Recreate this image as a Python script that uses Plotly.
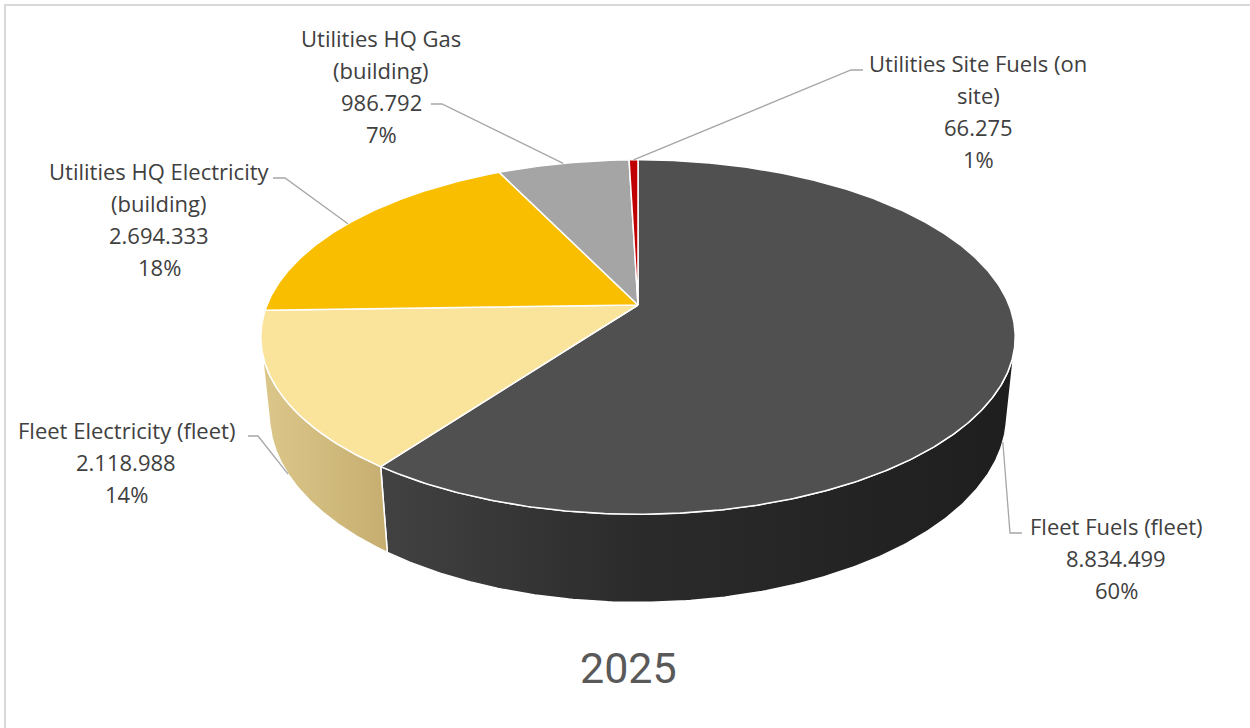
import math
import numpy as np
import plotly.graph_objects as go

# ---- data ----
categories = [
    "Fleet Fuels (fleet)",
    "Fleet Electricity (fleet)",
    "Utilities HQ Electricity\n(building)",
    "Utilities HQ Gas\n(building)",
    "Utilities Site Fuels (on\nsite)",
]
values = [8834499, 2118988, 2694333, 986792, 66275]
chart_title = "2025"

# ---- styling ----
top_colors = ["#505050", "#FAE39B", "#FABE00", "#A5A5A5", "#C00000"]
side_scales = [
    [[0, "#424242"], [0.4, "#2B2B2B"], [1, "#1E1E1E"]],
    [[0, "#DCC78A"], [1, "#C6AE70"]],
    [[0, "#D9A600"], [1, "#B88E00"]],
    [[0, "#909090"], [1, "#7A7A7A"]],
    [[0, "#A00000"], [1, "#800000"]],
]
label_color = "#404040"
leader_color = "#A6A6A6"
label_font = "Open Sans"
label_size = 22
line_gap = 32

# label block: (center x, first line y), leader: (start, elbow)
label_layout = [
    ((1116, 526), ((1022, 533), (1010, 533))),
    ((126, 430), ((248, 436), (258, 436))),
    ((159, 171), ((273, 178), (285, 178))),
    ((381, 38), ((431, 104), (442, 104))),
    ((978, 63), ((863, 70), (851, 70))),
]

# ---- 3D pie projection ----
W, H_PX = 1250, 728
CX, CY = 638, 305          # apex of the pie on screen
R = 371                     # radius in px
S = 0.462                   # sin of tilt
C = math.sqrt(1 - S * S)
D = 4.91                    # camera distance (perspective)
THICK = 0.24                # pie thickness (radius units)


def proj(theta_deg, z):
    t = np.radians(theta_deg)
    x = np.sin(t)
    y = np.cos(t)
    up = y * S + z * C
    depth = -y * C + z * S
    f = D / (D - depth)
    return CX + R * x * f, CY - R * up * f


total = sum(values)
fracs = [v / total for v in values]
bounds = np.concatenate([[0], np.cumsum(fracs) * 360])

# percentages that add to 100 (largest remainder)
raw = [f * 100 for f in fracs]
pcts = [int(math.floor(r)) for r in raw]
rem = 100 - sum(pcts)
order = sorted(range(len(raw)), key=lambda i: raw[i] - pcts[i], reverse=True)
for i in order[:rem]:
    pcts[i] += 1

# visible range of the outer wall
theta_v = math.degrees(math.acos(-1.0 / (D * C)))

fig = go.Figure()

# outer walls
for i in range(len(values)):
    a0 = max(bounds[i], theta_v)
    a1 = min(bounds[i + 1], 360 - theta_v)
    if a1 <= a0:
        continue
    th = np.linspace(a0, a1, 200)
    xt, yt = proj(th, 0.0)
    xb, yb = proj(th[::-1], -THICK)
    xs = np.concatenate([xt, xb, xt[:1]])
    ys = np.concatenate([yt, yb, yt[:1]])
    fig.add_trace(go.Scatter(
        x=xs, y=ys, mode="lines", fill="toself",
        fillgradient=dict(type="horizontal", colorscale=side_scales[i]),
        line=dict(color="white", width=1.5),
        hoverinfo="skip", showlegend=False))

# top faces
for i in range(len(values)):
    th = np.linspace(bounds[i], bounds[i + 1], max(3, int((bounds[i + 1] - bounds[i]) * 2)))
    xa, ya = proj(th, 0.0)
    xs = np.concatenate([[CX], xa, [CX]])
    ys = np.concatenate([[CY], ya, [CY]])
    fig.add_trace(go.Scatter(
        x=xs, y=ys, mode="lines", fill="toself", fillcolor=top_colors[i],
        line=dict(color="white", width=1.5),
        hoverinfo="skip", showlegend=False))

# leader lines and labels
annotations = []
for i, name in enumerate(categories):
    mid = (bounds[i] + bounds[i + 1]) / 2
    z = -THICK if theta_v < mid < 360 - theta_v else 0.0
    ax, ay = proj(mid, z)
    (lx, ly), (p0, p1) = label_layout[i]
    fig.add_trace(go.Scatter(
        x=[p0[0], p1[0], float(ax)], y=[p0[1], p1[1], float(ay)],
        mode="lines", line=dict(color=leader_color, width=1.3),
        hoverinfo="skip", showlegend=False))
    lines = name.split("\n") + [f"{values[i]:,}".replace(",", "."), f"{pcts[i]}%"]
    for k, txt in enumerate(lines):
        annotations.append(dict(
            x=lx, y=ly + k * line_gap, xref="x", yref="y", text=txt,
            showarrow=False, xanchor="center", yanchor="middle",
            font=dict(family=label_font, size=label_size, color=label_color)))

annotations.append(dict(
    x=628, y=668, xref="x", yref="y", text=chart_title, showarrow=False,
    xanchor="center", yanchor="middle",
    font=dict(family="Roboto", size=43, color="#595959")))

fig.update_layout(
    width=W, height=H_PX,
    margin=dict(l=0, r=0, t=0, b=0),
    paper_bgcolor="white", plot_bgcolor="white",
    xaxis=dict(range=[0, W], visible=False, fixedrange=True),
    yaxis=dict(range=[H_PX, 0], visible=False, fixedrange=True),
    annotations=annotations,
    shapes=[dict(type="rect", xref="x", yref="y", x0=5, y0=5, x1=1262, y1=740,
                 line=dict(color="#D9D9D9", width=2), fillcolor="rgba(0,0,0,0)",
                 layer="below")],
)

fig.write_html("out.html")
